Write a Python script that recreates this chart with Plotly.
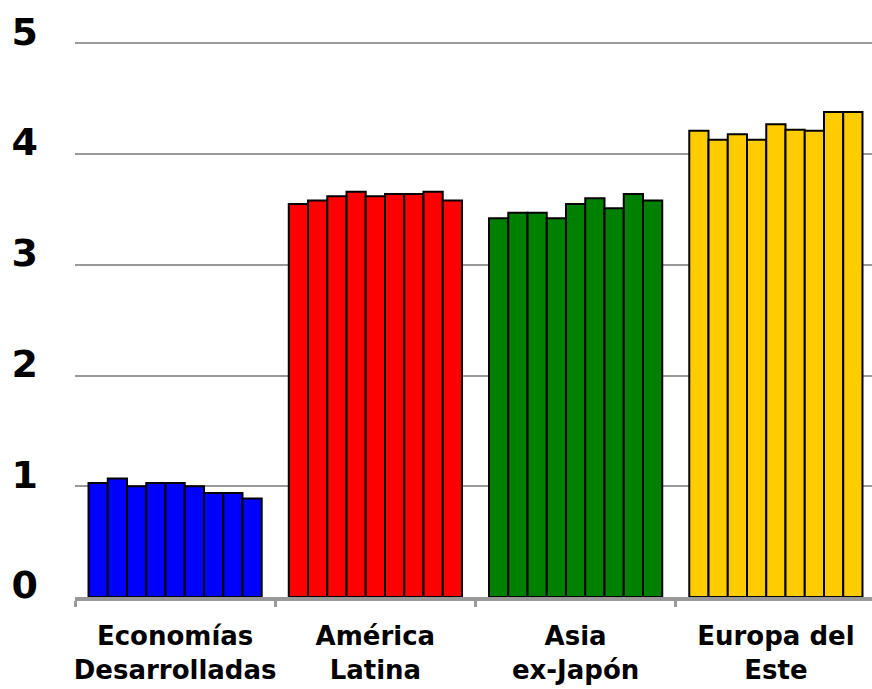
import plotly.graph_objects as go

regions = ["Economías<br>Desarrolladas", "América<br>Latina", "Asia<br>ex-Japón", "Europa del<br>Este"]
region_colors = ["#0000FF", "#FF0000", "#008000", "#FFCC00"]

# nine observations per region
economias_desarrolladas = [1.03, 1.07, 1.00, 1.03, 1.03, 1.00, 0.94, 0.94, 0.89]
america_latina = [3.55, 3.58, 3.62, 3.66, 3.62, 3.64, 3.64, 3.66, 3.58]
asia_ex_japon = [3.42, 3.47, 3.47, 3.42, 3.55, 3.60, 3.51, 3.64, 3.58]
europa_del_este = [4.21, 4.13, 4.18, 4.13, 4.27, 4.22, 4.21, 4.38, 4.38]

y_ticks = [0, 1, 2, 3, 4, 5]

series = [economias_desarrolladas, america_latina, asia_ex_japon, europa_del_este]

fig = go.Figure()
for i in range(9):
    fig.add_trace(go.Bar(
        x=regions,
        y=[s[i] for s in series],
        marker=dict(color=region_colors, line=dict(color="black", width=2)),
        showlegend=False,
    ))

fig.update_layout(
    width=872, height=689,
    margin=dict(l=75, r=0, t=40, b=92),
    paper_bgcolor="white", plot_bgcolor="white",
    barmode="group", bargap=0.135, bargroupgap=0,
    font=dict(family="DejaVu Sans", color="black"),
    xaxis=dict(
        tickson="boundaries", ticks="outside", ticklen=6, tickwidth=3, tickcolor="#999999",
        showline=True, linecolor="#999999", linewidth=4,
        tickfont=dict(size=26, family="DejaVu Sans", weight="bold"),
        tickangle=0, automargin=False,
        ticklabelstandoff=13,
        range=[-0.5, 3.48],
    ),
    yaxis=dict(
        range=[0, 5.03], tickvals=y_ticks,
        showgrid=True, gridcolor="#999999", gridwidth=2,
        zeroline=False, showline=False, automargin=False,
        tickfont=dict(size=38, family="DejaVu Sans", weight="bold"),
        ticklabelstandoff=36, ticklabelshift=-12,
    ),
)

fig.write_html("out.html")
